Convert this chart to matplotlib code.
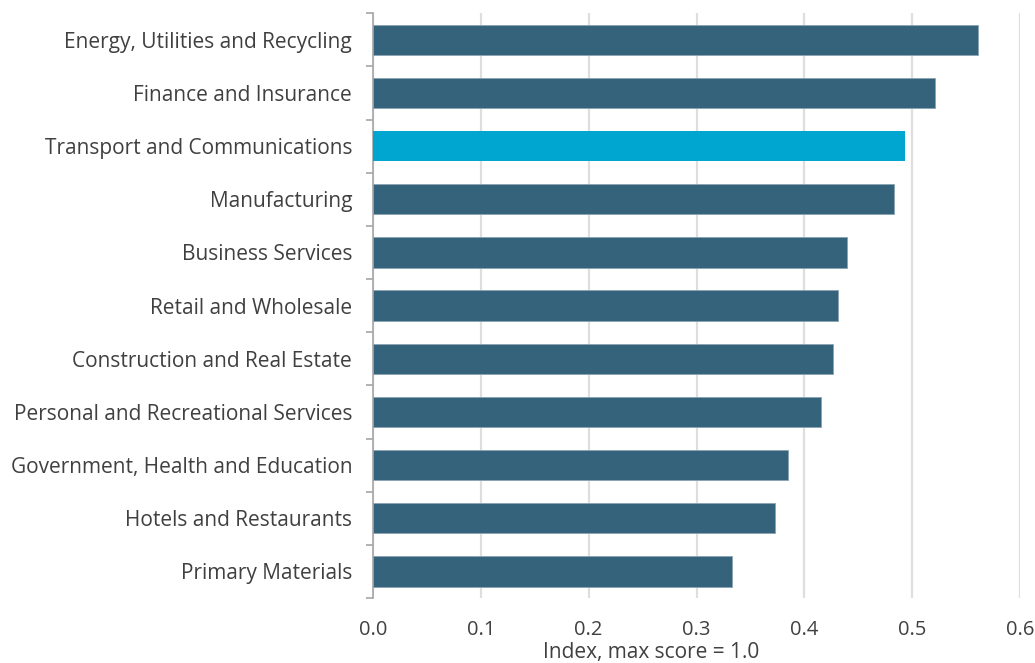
import matplotlib.pyplot as plt
import numpy as np

plt.rcParams['font.family'] = ['Open Sans', 'DejaVu Sans']

sectors = [
    "Energy, Utilities and Recycling",
    "Finance and Insurance",
    "Transport and Communications",
    "Manufacturing",
    "Business Services",
    "Retail and Wholesale",
    "Construction and Real Estate",
    "Personal and Recreational Services",
    "Government, Health and Education",
    "Hotels and Restaurants",
    "Primary Materials",
]
scores = [0.561, 0.521, 0.493, 0.483, 0.440, 0.431, 0.427, 0.415, 0.385, 0.373, 0.333]
highlight = "Transport and Communications"

dark = "#35637c"
bright = "#00a6cf"
text_col = "#404040"

fig = plt.figure(figsize=(10.35, 6.63), dpi=100)
ax = fig.add_axes([0.3604, 0.098, 0.6251, 0.882])

y = np.arange(len(sectors))[::-1]
colors = [bright if s == highlight else dark for s in sectors]
edges = ["none" if s == highlight else "#8aa4b3" for s in sectors]
ax.barh(y, scores, height=0.57, color=colors, edgecolor=edges, linewidth=0.6, zorder=3)

ax.set_xlim(0, 0.6)
ax.set_ylim(-0.5, len(sectors) - 0.5)
ax.set_xticks(np.arange(0, 0.61, 0.1))
ax.set_xticklabels([f"{v:.1f}" for v in np.arange(0, 0.61, 0.1)], fontsize=14.5, color=text_col)
ax.set_yticks(y)
ax.set_yticklabels(sectors, fontsize=15, color=text_col)
ax.set_yticks(np.arange(-0.5, len(sectors)), minor=True)
ax.tick_params(axis="y", which="major", length=0, pad=15)
ax.tick_params(axis="y", which="minor", length=5, width=1.2, color="#a6a6a6")
ax.tick_params(axis="x", length=0, pad=16)

ax.grid(axis="x", color="#dedede", linewidth=1.6, zorder=0)
for side in ["top", "right", "bottom"]:
    ax.spines[side].set_visible(False)
ax.spines["left"].set_color("#a6a6a6")
ax.spines["left"].set_linewidth(1.2)

ax.set_xlabel("Index, max score = 1.0", fontsize=15, color=text_col)
ax.xaxis.set_label_coords(0.43, -0.076)

fig.savefig("out.png", dpi=100)
